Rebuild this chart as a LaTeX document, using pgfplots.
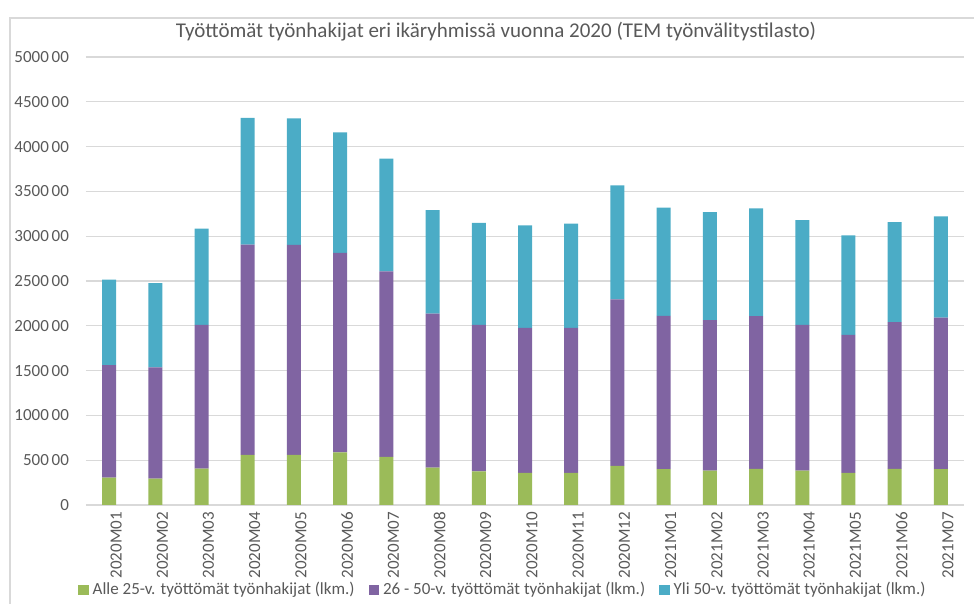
\documentclass[border=0pt]{standalone}
\usepackage{pgfplots}
\usepackage{pgfplotstable}
\pgfplotsset{compat=1.18}
\usepackage{fontspec}
\setmainfont{Carlito}
\definecolor{cgreen}{HTML}{9BBB59}
\definecolor{cpurple}{HTML}{8064A2}
\definecolor{cblue}{HTML}{4BACC6}
\definecolor{tgray}{HTML}{595959}
\definecolor{ggray}{HTML}{D9D9D9}

\pgfplotstableread{
x g p b
0 30500 125600 95400
1 29400 124100 94000
2 40700 160400 107400
3 56000 234600 141400
4 56000 234300 141200
5 58600 222700 134700
6 53800 206900 125800
7 41800 171900 115300
8 37500 163600 113900
9 35900 161900 114200
10 35900 161900 116200
11 43800 185800 127200
12 40000 171100 120900
13 38500 167900 120600
14 40300 170500 120200
15 38500 162600 116900
16 35900 154100 111000
17 40300 163800 111700
18 40000 169000 113000
}\data

\begin{document}
\begin{tikzpicture}
\useasboundingbox (-43pt,-49.5pt) rectangle (444pt,252.5pt);
\draw[ggray, line width=0.6pt] (-38pt,-80pt) rectangle (470pt,243.5pt);
\begin{axis}[
  at={(0,0)}, anchor=south west,
  scale only axis, width=439pt, height=224pt,
  ybar stacked, bar width=7pt,
  xmin=-0.5, xmax=18.5, ymin=0, ymax=500000,
  scaled y ticks=false,
  xtick={0,...,18},
  xticklabels={2020M01,2020M02,2020M03,2020M04,2020M05,2020M06,2020M07,2020M08,2020M09,2020M10,2020M11,2020M12,2021M01,2021M02,2021M03,2021M04,2021M05,2021M06,2021M07},
  ytick={0,50000,...,500000},
  yticklabels={0,500\,00,1000\,00,1500\,00,2000\,00,2500\,00,3000\,00,3500\,00,4000\,00,4500\,00,5000\,00},
  axis line style={draw=none},
  tick style={draw=none},
  ymajorgrids, grid style={ggray, line width=0.6pt},
  ticklabel style={font=\fontsize{8.5}{10}\selectfont, text=tgray},
  yticklabel style={anchor=east, xshift=-5pt},
  xticklabel style={rotate=90, anchor=east, yshift=-3.5pt},
  legend style={at={(0.476,-0.19)}, anchor=center, legend columns=-1, draw=none, fill=none,
    font=\fontsize{8.5}{10}\selectfont, text=tgray,
    /tikz/every even column/.append style={column sep=5pt}},
  legend image code/.code={\fill[#1] (0pt,-2.6pt) rectangle (5.2pt,2.6pt);},
]
\addplot[fill=cgreen, draw=none] table[x=x, y=g] {\data};
\addplot[fill=cpurple, draw=none] table[x=x, y=p] {\data};
\addplot[fill=cblue, draw=none] table[x=x, y=b] {\data};
\legend{Alle 25-v. työttömät työnhakijat (lkm.), 26 - 50-v. työttömät työnhakijat (lkm.), Yli 50-v. työttömät työnhakijat (lkm.)}
\end{axis}
\node[text=tgray, font=\fontsize{10.5}{12}\selectfont] at (205pt,236.5pt) {Työttömät työnhakijat eri ikäryhmissä vuonna 2020 (TEM työnvälitystilasto)};
\end{tikzpicture}
\end{document}
